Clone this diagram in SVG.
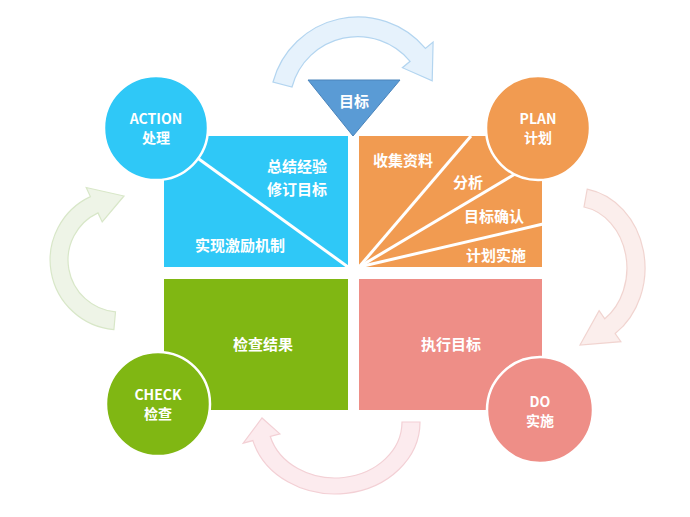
<svg xmlns="http://www.w3.org/2000/svg" width="690" height="517" viewBox="0 0 690 517">
<style>
text{font-family:"Noto Sans CJK SC","Liberation Sans",sans-serif;fill:#fff;font-weight:bold;text-anchor:middle;font-size:15px}
.c{font-size:14px}
.sep{stroke:#fff;stroke-width:3;fill:none}
.circ{stroke:#fff;stroke-width:2.5}
</style>
<rect width="690" height="517" fill="#fff"/>
<g id="connectors">
<path d="M273,82 A88,88 0 0 1 425.4,48.4 L433.1,42 L432.2,80.9 L402.4,67.7 L410.1,61.3 A68,68 0 0 0 292,87 Z" fill="#e6f2fc" stroke="#b3d5f0" stroke-width="1.2"/>
<path d="M587.2,189.2 A70,80 0 0 1 615.2,333.5 L620.9,341.7 L580,345 L599.1,310.6 L604.8,318.8 A52,62 0 0 0 584,207 Z" fill="#fbeeec" stroke="#f1d4d0" stroke-width="1.2"/>
<path d="M420,422 A85,72 0 0 1 252.9,440.6 L243.2,443.2 L262,418 L279.9,433.9 L270.3,436.5 A67,56 0 0 0 402,422 Z" fill="#fcebee" stroke="#f3d0d5" stroke-width="1.2"/>
<path d="M113.9,329.7 A70,70 0 0 1 90.4,196.6 L86.2,187.5 L124,196 L102.2,221.9 L98,212.9 A52,52 0 0 0 115.5,311.8 Z" fill="#eef4e7" stroke="#d8e7c8" stroke-width="1.2"/>
</g>
<g id="act-quad">
<rect x="164" y="136" width="184" height="131" fill="#2fc8f7"/>
<line class="sep" x1="156" y1="128" x2="348" y2="267"/>
<text x="297" y="172">总结经验</text>
<text x="297" y="195">修订目标</text>
<text x="240" y="251">实现激励机制</text>
</g>
<g id="plan-quad">
<rect x="359" y="136" width="183" height="131" fill="#f19b51"/>
<line class="sep" x1="359" y1="267" x2="471" y2="136"/>
<line class="sep" x1="359" y1="267" x2="515" y2="174"/>
<line class="sep" x1="359" y1="267" x2="543" y2="224"/>
<text x="403" y="166">收集资料</text>
<text x="468" y="188">分析</text>
<text x="494" y="222">目标确认</text>
<text x="496" y="261">计划实施</text>
</g>
<g id="check-quad">
<rect x="164" y="279" width="184" height="131" fill="#80b713"/>
<text x="263" y="350">检查结果</text>
</g>
<g id="do-quad">
<rect x="359" y="279" width="183" height="131" fill="#ee8e87"/>
<text x="451" y="350">执行目标</text>
</g>
<g id="goal">
<polygon points="308,80 400,80 353,136" fill="#5a9bd5" stroke="#4a84bb" stroke-width="1"/>
<text x="354" y="107">目标</text>
</g>
<g id="action">
<circle class="circ" cx="156" cy="128" r="52" fill="#2fc8f7"/>
<text class="c" x="156" y="124">ACTION</text>
<text class="c" x="156" y="143">处理</text>
</g>
<g id="plan">
<circle class="circ" cx="538" cy="128" r="52" fill="#f19b51"/>
<text class="c" x="538" y="124">PLAN</text>
<text class="c" x="538" y="143">计划</text>
</g>
<g id="check">
<circle class="circ" cx="158" cy="404" r="52" fill="#80b713"/>
<text class="c" x="158" y="400">CHECK</text>
<text class="c" x="158" y="419">检查</text>
</g>
<g id="do">
<circle class="circ" cx="540" cy="410" r="53" fill="#ee8e87"/>
<text class="c" x="540" y="407">DO</text>
<text class="c" x="540" y="426">实施</text>
</g>
</svg>
